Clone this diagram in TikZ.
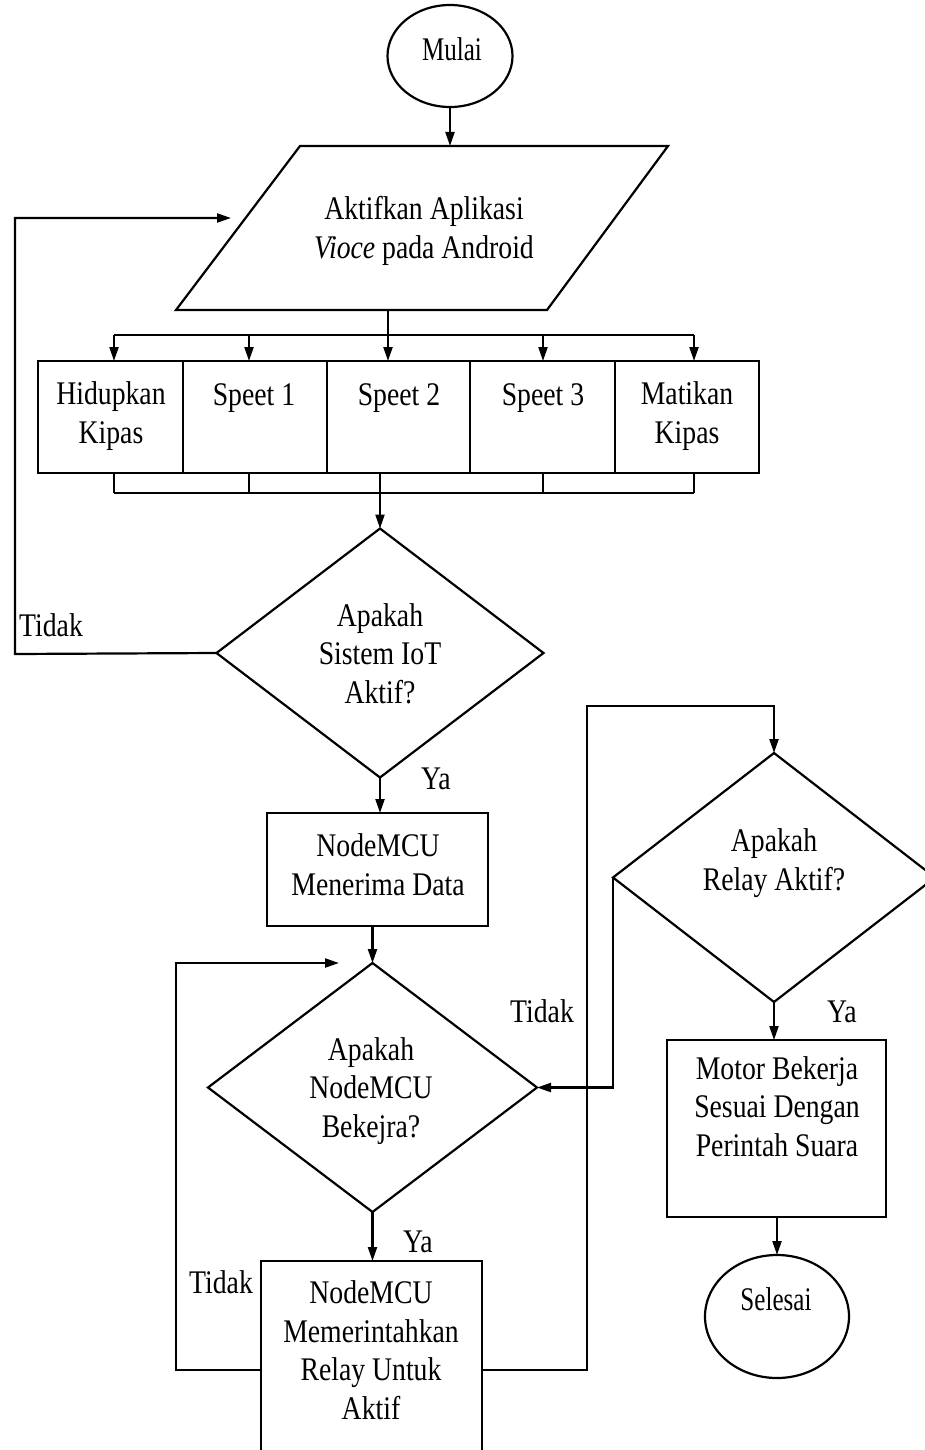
\documentclass[tikz,border=0pt]{standalone}
\usepackage{fontspec}
\setmainfont{Liberation Serif}[FakeStretch=0.84]
\newfontfamily\termfont{Liberation Serif}[FakeStretch=0.76]
\usetikzlibrary{shapes.geometric,arrows.meta}

\tikzset{
  line/.style={line width=2.2pt, line join=miter},
  arr/.style={line, -{Triangle[length=14pt,width=9pt]}},
  box/.style={draw, line width=2.2pt, rectangle, inner sep=0pt, outer sep=0pt},
  term/.style={draw, line width=2.2pt, ellipse, inner sep=0pt, outer sep=0pt},
  dec/.style={draw, line width=2.2pt, diamond, inner sep=0pt, outer sep=0pt},
  % multi-line texts are placed by the baseline of their last line
  txt/.style={font=\fontsize{33}{38.5}\selectfont, align=center, inner sep=0pt, anchor=base},
  termtxt/.style={txt, font=\termfont\fontsize{33}{38.5}\selectfont},
  lbl/.style={txt, anchor=base west}
}

\begin{document}
\begin{tikzpicture}[x=1pt,y=-1pt]
\useasboundingbox (0,0) rectangle (925,1450);
\clip (0,0) rectangle (925,1450);
\fill[white] (0,0) rectangle (925,1450);

% start terminal
\node[term, minimum width=125pt, minimum height=102pt] (start) at (450,56) {};
\node[termtxt] (startT) at (452,61) {Mulai};

% input parallelogram
\coordinate (pTL) at (300,146);
\coordinate (pTR) at (668,146);
\coordinate (pBR) at (547,310);
\coordinate (pBL) at (176,310);
\draw[line] (pTL) -- (pTR) -- (pBR) -- (pBL) -- cycle;
\node[txt] (appT) at (424,258) {Aktifkan Aplikasi\\\textit{Vioce} pada Android};
\coordinate (appIn) at (450,146);
\coordinate (appOut) at (388,310);
\coordinate (appLoop) at (231,218);
\draw[arr] (start.south) -- (appIn);

% command boxes
\node[box, minimum width=145pt, minimum height=112pt] (o1) at (110.5,417) {};
\node[box, minimum width=144pt, minimum height=112pt] (o2) at (255,417) {};
\node[box, minimum width=143pt, minimum height=112pt] (o3) at (398.5,417) {};
\node[box, minimum width=145pt, minimum height=112pt] (o4) at (542.5,417) {};
\node[box, minimum width=144pt, minimum height=112pt] (o5) at (687,417) {};
\node[txt] (o1T) at (111,443) {Hidupkan\\Kipas};
\node[txt] (o2T) at (254,405) {Speet 1};
\node[txt] (o3T) at (399,405) {Speet 2};
\node[txt] (o4T) at (543,405) {Speet 3};
\node[txt] (o5T) at (687,443) {Matikan\\Kipas};

% distribution bus above the boxes
\coordinate (busTop) at (388,335);
\coordinate (tb1) at (114,335);
\coordinate (tb2) at (249,335);
\coordinate (tb3) at (388,335);
\coordinate (tb4) at (543,335);
\coordinate (tb5) at (694,335);
\draw[line] (appOut) -- (busTop);
\draw[line] (tb1) -- (tb5);
\foreach \i in {1,...,5} {
  \draw[arr] (tb\i) -- (tb\i |- o\i.north);
}

% collecting bus below the boxes
\coordinate (lb1) at (114,493);
\coordinate (lb2) at (249,493);
\coordinate (lb4) at (543,493);
\coordinate (lb5) at (694,493);
\draw[line] (lb1) -- (lb5);
\foreach \i in {1,2,4,5} {
  \draw[line] (lb\i |- o\i.south) -- (lb\i);
}

% decision: IoT system active
\node[dec, minimum width=327pt, minimum height=249pt] (d1) at (380,653) {};
\node[txt] (d1T) at (380,703) {Apakah\\Sistem IoT\\Aktif?};
\draw[arr] (d1.north |- o3.south) -- (d1.north);
\coordinate (loopA) at (15,654);
\draw[arr] (d1.west) -- (loopA) |- (appLoop);
\node[lbl] (d1No) at (19,636) {Tidak};
\node[lbl] (d1Yes) at (421,789) {Ya};

% NodeMCU receives data
\node[box, minimum width=221pt, minimum height=113pt] (b2) at (377.5,869.5) {};
\node[txt] (b2T) at (378,895) {NodeMCU\\Menerima Data};
\draw[arr] (d1.south) -- (d1.south |- b2.north);

% decision: NodeMCU working
\node[dec, minimum width=329pt, minimum height=249pt] (d2) at (372.5,1087.5) {};
\node[txt] (d2T) at (371,1137) {Apakah\\NodeMCU\\Bekejra?};
\draw[arr] (d2.north |- b2.south) -- (d2.north);

% NodeMCU commands relay
\node[box, minimum width=221pt, minimum height=218pt] (b3) at (371.5,1370) {};
\node[txt] (b3T) at (371,1419) {NodeMCU\\Memerintahkan\\Relay Untuk\\Aktif};
\draw[arr] (d2.south) -- (d2.south |- b3.north);
\node[lbl] (d2Yes) at (403,1252) {Ya};

% retry loop back to the NodeMCU decision
\coordinate (l2) at (176,1370);
\coordinate (l2end) at (339,963);
\draw[arr] (b3.west) -- (l2) |- (l2end);
\node[lbl] (b3No) at (189,1293) {Tidak};

% decision: relay active
\node[dec, minimum width=322pt, minimum height=249pt] (d3) at (774,877.5) {};
\node[txt] (d3T) at (774,890) {Apakah\\Relay Aktif?};
\coordinate (r1) at (587,1370);
\coordinate (r2) at (587,706);
\draw[arr] (b3.east) -- (r1) -- (r2) -| (d3.north);
\draw[arr] (d3.west) -- (d3.west |- d2.east) -- (d2.east);
\node[lbl] (d3No) at (510,1022) {Tidak};
\node[lbl] (d3Yes) at (827,1022) {Ya};

% motor runs
\node[box, minimum width=219pt, minimum height=177pt] (b4) at (776.5,1128.5) {};
\node[txt] (b4T) at (777,1156) {Motor Bekerja\\Sesuai Dengan\\Perintah Suara};
\draw[arr] (d3.south) -- (d3.south |- b4.north);

% end terminal
\node[term, minimum width=144pt, minimum height=123pt] (stop) at (777,1316.5) {};
\node[termtxt] (stopT) at (776,1310) {Selesai};
\draw[arr] (stop.north |- b4.south) -- (stop.north);
\end{tikzpicture}
\end{document}
